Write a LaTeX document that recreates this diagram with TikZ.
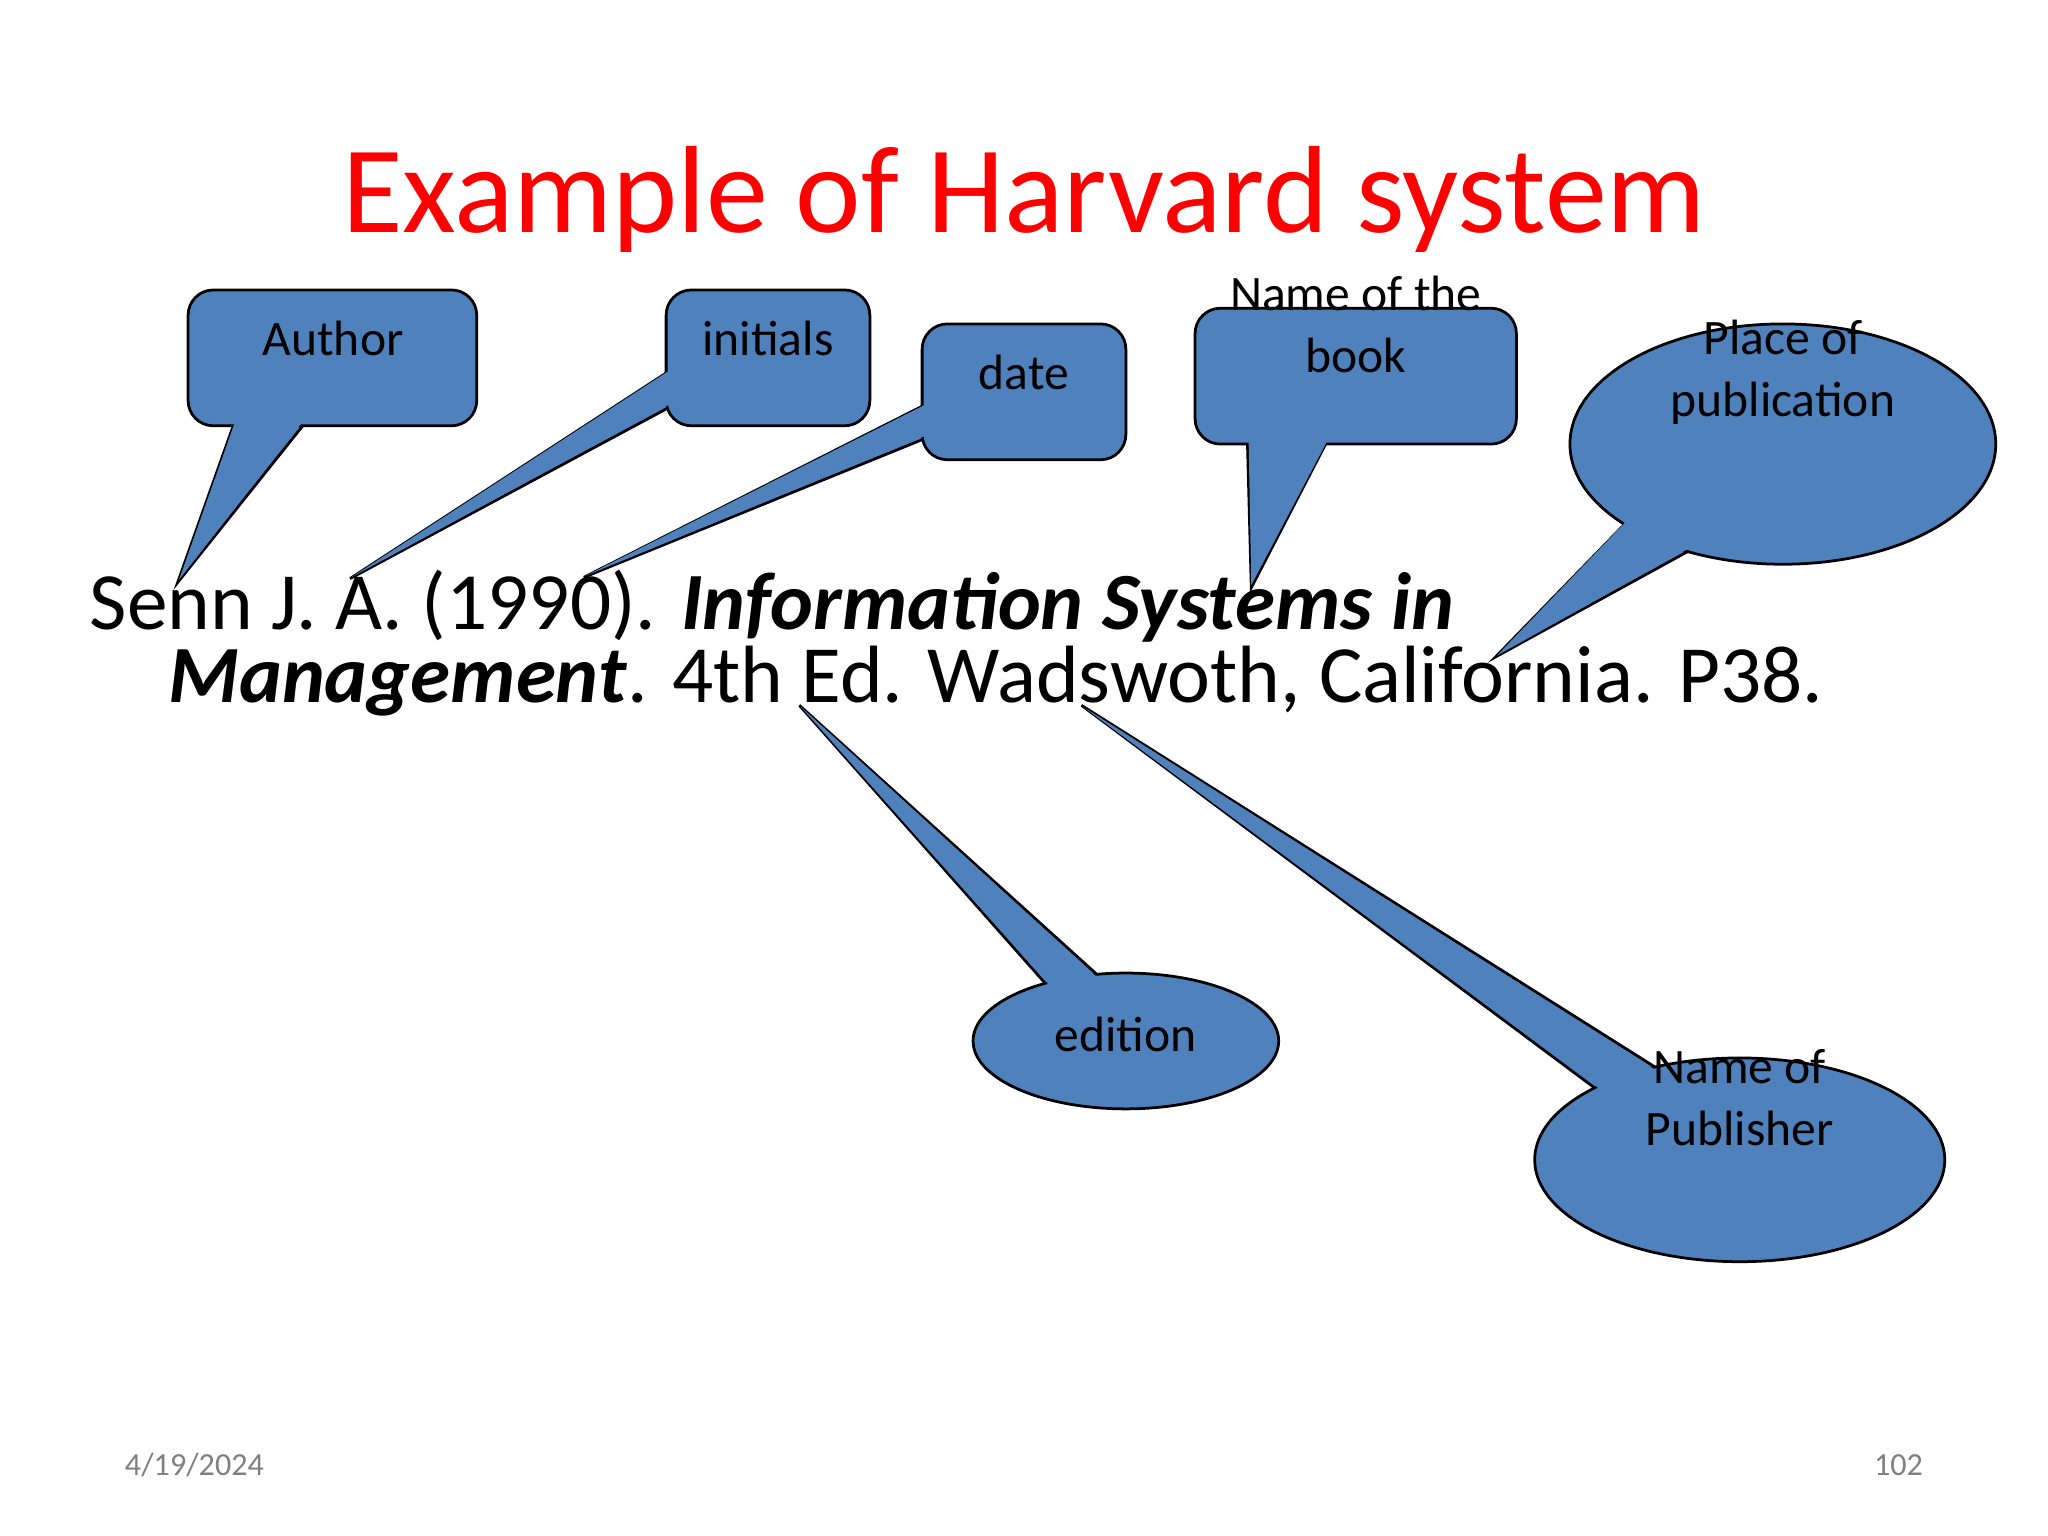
\documentclass[tikz,border=0pt]{standalone}
\usepackage{fontspec}
\setmainfont{Carlito}
\definecolor{callblue}{RGB}{79,129,189}
\definecolor{titlered}{RGB}{255,0,0}
\tikzset{
  tailfill/.style={fill=callblue},
  taildraw/.style={fill=callblue,draw=black,line width=0.6pt,line join=miter},
  boxshape/.style={fill=callblue,draw=black,line width=0.6pt,rounded corners=5.5pt},
  lab/.style={font=\fontsize{10.8pt}{13.5pt}\selectfont,align=center,anchor=base},
  body/.style={font=\fontsize{17.7pt}{21pt}\selectfont,anchor=base west,inner sep=0pt}
}
\begin{document}
\begin{tikzpicture}[x=0.01cm,y=-0.01cm]
\useasboundingbox (0,0) rectangle (1568,1176);
% title
\node[anchor=base,text=titlered,font=\fontsize{27pt}{32pt}\selectfont,inner sep=0pt] (title) at (784,178) {Example of Harvard system};
% Author
\draw[taildraw] (180,322) -- (136,446) -- (235,322) -- cycle;
\draw[boxshape] (144,222) rectangle (365,326);
\fill[tailfill] (181,320) -- (137,444) -- (234,320) -- cycle;
\node[lab] (author) at (255,272) {Author};
% initials
\draw[taildraw] (514,283) -- (268,443) -- (514,311) -- cycle;
\draw[boxshape] (510,222) rectangle (666,326);
\fill[tailfill] (512,284) -- (269,442) -- (512,310) -- cycle;
\node[lab] (initials) at (588,272) {initials};
% date
\draw[taildraw] (710,309) -- (447,442) -- (710,335) -- cycle;
\draw[boxshape] (706,248) rectangle (862,352);
\fill[tailfill] (708,310) -- (448,441) -- (708,334) -- cycle;
\node[lab] (date) at (784,298) {date};
% Name of the book
\draw[taildraw] (955,336) -- (958,450) -- (1017,336) -- cycle;
\draw[boxshape] (915,236) rectangle (1161,340);
\fill[tailfill] (956,338) -- (958,448) -- (1016,338) -- cycle;
\node[lab] (book) at (1038,285) {Name of the\\book};
% Place of publication
\draw[taildraw] (1250,395) -- (1145,503) -- (1300,418) -- cycle;
\draw[fill=callblue,draw=black,line width=0.6pt] (1365,340) ellipse [x radius=163,y radius=92];
\fill[tailfill] (1250,394) -- (1146,502) -- (1300,416) -- cycle;
\node[lab] (place) at (1365,319) {Place of\\publication};
% edition
\draw[taildraw] (612,540) -- (803,756) -- (842,748) -- cycle;
\draw[fill=callblue,draw=black,line width=0.6pt] (862,797) ellipse [x radius=117,y radius=52];
\fill[tailfill] (613,541) -- (803,754) -- (842,750) -- cycle;
\node[lab] (edition) at (862,805) {edition};
% Publisher
\draw[taildraw] (828,540) -- (1225,836) -- (1272,820) -- cycle;
\draw[fill=callblue,draw=black,line width=0.6pt] (1332,888) ellipse [x radius=157,y radius=78];
\fill[tailfill] (829,541) -- (1225,834) -- (1272,822) -- cycle;
\node[lab] (pub) at (1332,877) {Name of\\Publisher};
% reference text
\node[body] (line1) at (68,482) {Senn J. A. (1990). \textbf{\textit{Information Systems in}}};
\node[body] (line2) at (128,538) {\textbf{\textit{Management}}. 4th Ed. Wadswoth, California. P38.};
% footer
\node[anchor=base west,inner sep=0pt,text=gray,font=\fontsize{7pt}{8pt}\selectfont] (date2) at (95,1130) {4/19/2024};
\node[anchor=base east,inner sep=0pt,text=gray,font=\fontsize{7pt}{8pt}\selectfont] (page) at (1473,1130) {102};
\end{tikzpicture}
\end{document}
